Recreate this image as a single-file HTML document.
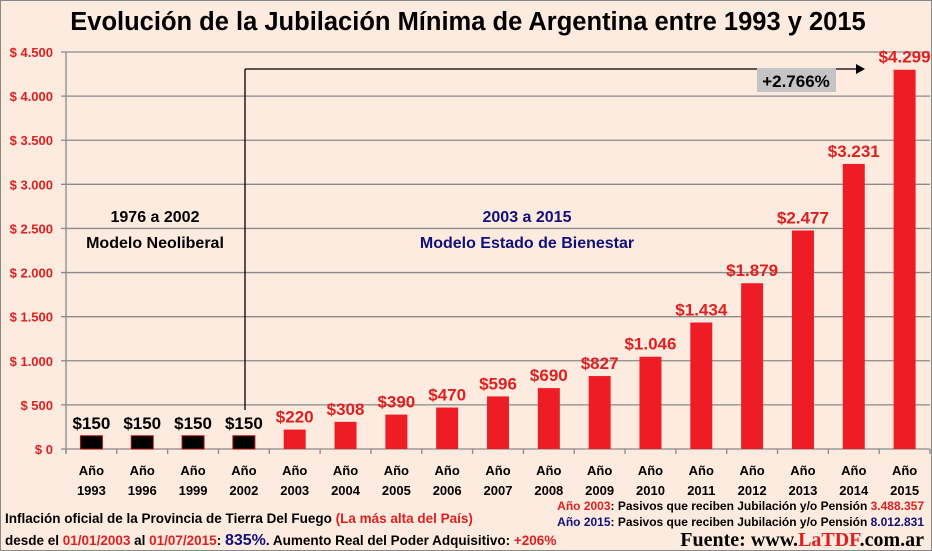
<!DOCTYPE html>
<html><head><meta charset="utf-8"><style>
body{margin:0;background:#fdebdf;}
svg{display:block;font-family:"Liberation Sans",sans-serif;font-weight:bold;}
</style></head><body>
<svg id="c" width="932" height="551">
<rect x="0.5" y="0.5" width="931" height="550" fill="#fdebdf" stroke="#888"/>
<text x="468" y="30" text-anchor="middle" font-size="25.5" fill="#000">Evolución de la Jubilación Mínima de Argentina entre 1993 y 2015</text>
<g id="grid"></g><g id="bars"></g><g id="xl"></g>
<line x1="245" y1="410" x2="245" y2="69" stroke="#000" stroke-width="1.3"/>
<line x1="245" y1="69" x2="857" y2="69" stroke="#000" stroke-width="1.3"/>
<polygon points="865,69 856,64 856,74" fill="#000"/>
<rect x="757" y="68" width="79" height="24" fill="#c4c4c4"/>
<text x="796" y="87" text-anchor="middle" font-size="17" fill="#000">+2.766%</text>
<text x="155" y="222" text-anchor="middle" font-size="16" fill="#000">1976 a 2002</text>
<text x="155" y="248" text-anchor="middle" font-size="16" fill="#000">Modelo Neoliberal</text>
<text x="527" y="222" text-anchor="middle" font-size="16" fill="#10107a">2003 a 2015</text>
<text x="527" y="248" text-anchor="middle" font-size="16" fill="#10107a">Modelo Estado de Bienestar</text>
<text x="5" y="523" font-size="13.5" fill="#000">Inflación oficial de la Provincia de Tierra Del Fuego <tspan fill="#e02020">(La más alta del País)</tspan></text>
<text x="5" y="545" font-size="13.5" fill="#000">desde el <tspan fill="#e02020">01/01/2003</tspan> al <tspan fill="#e02020">01/07/2015</tspan>: <tspan fill="#10107a" font-size="16">835%</tspan>. Aumento Real del Poder Adquisitivo: <tspan fill="#e02020">+206%</tspan></text>
<text x="924" y="510" text-anchor="end" font-size="12" fill="#000"><tspan fill="#e02020">Año 2003</tspan>: Pasivos que reciben Jubilación y/o Pensión <tspan fill="#e02020">3.488.357</tspan></text>
<text x="924" y="526" text-anchor="end" font-size="12" fill="#000"><tspan fill="#10107a">Año 2015</tspan>: Pasivos que reciben Jubilación y/o Pensión <tspan fill="#10107a">8.012.831</tspan></text>
<text x="924" y="546" text-anchor="end" font-size="20" fill="#000" font-family="Liberation Serif,serif">Fuente: www.<tspan fill="#e02020">LaTDF</tspan>.com.ar</text>
</svg>
<script>
const years=["1993","1996","1999","2002","2003","2004","2005","2006","2007","2008","2009","2010","2011","2012","2013","2014","2015"];
const values=[150,150,150,150,220,308,390,470,596,690,827,1046,1434,1879,2477,3231,4299];
const valueLabels=["$150","$150","$150","$150","$220","$308","$390","$470","$596","$690","$827","$1.046","$1.434","$1.879","$2.477","$3.231","$4.299"];
const yTicks=[0,500,1000,1500,2000,2500,3000,3500,4000,4500];
const yTickLabels=["$ 0","$ 500","$ 1.000","$ 1.500","$ 2.000","$ 2.500","$ 3.000","$ 3.500","$ 4.000","$ 4.500"];
const NS="http://www.w3.org/2000/svg";
const X0=66,X1=930,Y0=449,Y1=52,YMAX=4500;
const bw=(X1-X0)/years.length;
function y(v){return Y0-(v/YMAX)*(Y0-Y1);}
function xc(i){return X0+bw*(i+0.5);}
function mk(p,t,a){const e=document.createElementNS(NS,t);for(const k in a)e.setAttribute(k,a[k]);p.appendChild(e);return e;}
const g=document.getElementById('grid'),b=document.getElementById('bars'),xl=document.getElementById('xl');
yTicks.forEach((v,i)=>{
 const l=mk(g,'line',{x1:61,x2:X1,y1:y(v),y2:y(v),stroke:'#8a8a8a','stroke-width':1.3});
 
 
 const t=mk(g,'text',{x:53,y:y(v)+5,'text-anchor':'end','font-size':13,fill:'#e02020'});
 t.textContent=yTickLabels[i];
 
 
});
const ax=mk(g,'line',{x1:X0,x2:X0,y1:Y1,y2:Y0+4,stroke:'#8a8a8a','stroke-width':1.3});


for(let i=0;i<=years.length;i++){
 const tk=mk(g,'line',{x1:X0+bw*i,x2:X0+bw*i,y1:Y0,y2:Y0+5,stroke:'#8a8a8a','stroke-width':1.3});
 
 
}
values.forEach((v,i)=>{
 const old=i<4;
 const r=mk(b,'rect',{x:xc(i)-11,y:y(v),width:22,height:Y0-y(v),fill:old?'#000':'#ee1c25',stroke:old?'#b01010':'none','stroke-width':1});
 
 
 const t=mk(b,'text',{x:xc(i),y:y(v)-7,'text-anchor':'middle','font-size':17,fill:old?'#000':'#e02020'});
 t.textContent=valueLabels[i];
 
 
 const a=mk(xl,'text',{x:xc(i),y:475,'text-anchor':'middle','font-size':13,fill:'#000'});
 a.textContent='Año';
 
 
 const c=mk(xl,'text',{x:xc(i),y:495,'text-anchor':'middle','font-size':13,fill:'#000'});
 c.textContent=years[i];
 
 
});
</script>
</body></html>
